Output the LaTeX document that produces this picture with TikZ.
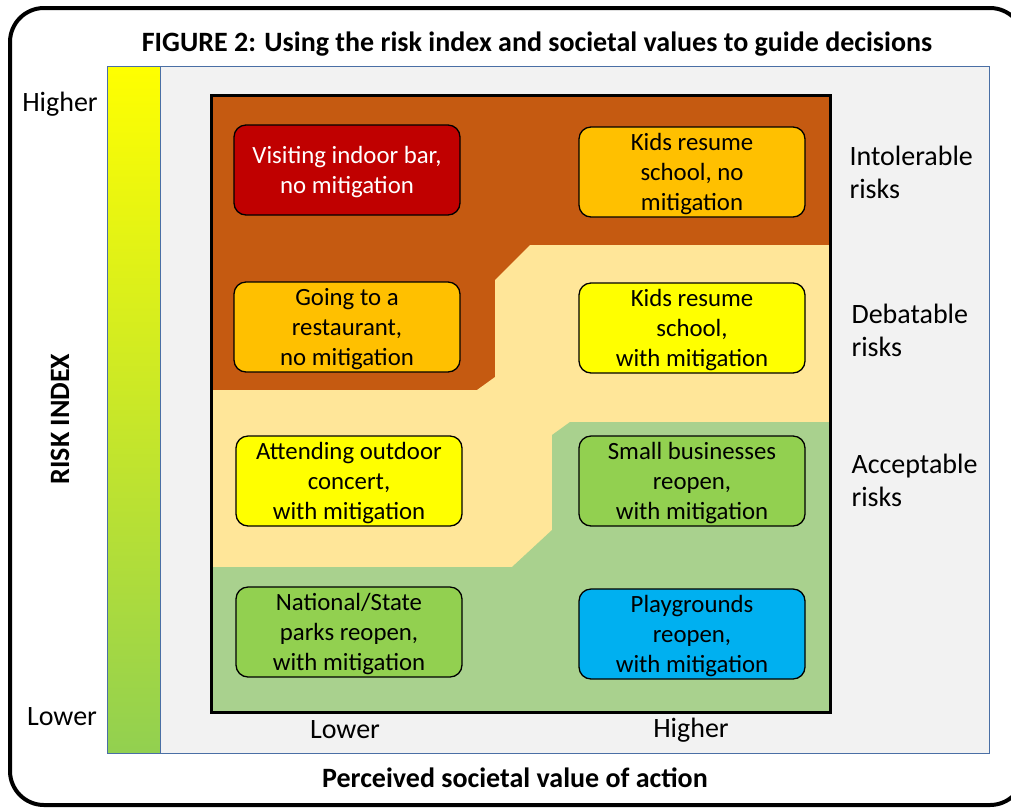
\documentclass[tikz,border=0pt]{standalone}
\usepackage{fontspec}
\setmainfont{Carlito}
\usepackage{tikz}
\usetikzlibrary{positioning,
                backgrounds}

\definecolor{riskBrown}{HTML}{C55A11}
\definecolor{riskTan}{HTML}{FFE699}
\definecolor{riskLeaf}{HTML}{A9D18E}
\definecolor{panelGray}{HTML}{F2F2F2}
\definecolor{panelEdge}{HTML}{4A6FA5}
\definecolor{actRed}{HTML}{C00000}
\definecolor{actOrange}{HTML}{FFC000}
\definecolor{actYellow}{HTML}{FFFF00}
\definecolor{actGreen}{HTML}{92D050}
\definecolor{actBlue}{HTML}{00B0F0}

\begin{document}
\begin{tikzpicture}[x=1pt,y=-1pt,%
    Act/.style={draw,line width=1.3pt,rounded corners=12pt,minimum width=226pt,
                minimum height=90pt,align=center,font=\fontsize{24.8}{30}\selectfont,
                text depth=-12pt},
    Zone/.style={align=left,anchor=west,font=\fontsize{28}{33}\selectfont},
    Tick/.style={font=\fontsize{28}{33}\selectfont},
    Heading/.style={font=\bfseries\fontsize{28}{33}\selectfont}
    ]
    \useasboundingbox (0,0) rectangle (1011,807);

    %frame and panel
    \draw[line width=4pt,rounded corners=34pt] (10,8) rectangle (1024,805);
    \draw[panelEdge,fill=panelGray,line width=1pt] (160,66) rectangle (989,753);
    \shade[top color=actYellow,bottom color=actGreen] (107,66) rectangle (160,753);
    \draw[panelEdge,line width=1pt] (107,66) rectangle (160,753);

    %risk zones
    \fill[riskBrown] (211,95) rectangle (830,712);
    \fill[riskTan] (211,390) -- (477,390) -- (495,377) -- (495,280) -- (530,245)
        -- (830,245) -- (830,712) -- (211,712) -- cycle;
    \fill[riskLeaf] (211,567) -- (512,567) -- (552,530) -- (552,435) -- (570,422)
        -- (830,422) -- (830,712) -- (211,712) -- cycle;
    \draw[line width=3pt] (211,95) rectangle (830,712);

    %actions
    \node[Act,fill=actRed,text=white] at (347,170) (Bar){Visiting indoor bar,\\no mitigation};
    \node[Act,fill=actOrange] at (692,172) (SchoolNo){Kids resume\\school, no\\mitigation};
    \node[Act,fill=actOrange] at (347,327) (Restaurant){Going to a\\restaurant,\\no mitigation};
    \node[Act,fill=actYellow] at (692,328) (SchoolMit){Kids resume\\school,\\with mitigation};
    \node[Act,fill=actYellow] at (349,481) (Concert){Attending outdoor\\concert,\\with mitigation};
    \node[Act,fill=actGreen] at (692,481) (Business){Small businesses\\reopen,\\with mitigation};
    \node[Act,fill=actGreen] at (349,632) (Parks){National/State\\parks reopen,\\with mitigation};
    \node[Act,fill=actBlue] at (692,634) (Playground){Playgrounds\\reopen,\\with mitigation};

    %zone labels
    \node[Zone] at (846,172) (Intol){Intolerable\\risks};
    \node[Zone] at (848,330) (Debat){Debatable\\risks};
    \node[Zone] at (848,480) (Accept){Acceptable\\risks};

    %axes
    \node[Tick] at (60,104) (RiskHi){Higher};
    \node[Tick] at (62,717) (RiskLo){Lower};
    \node[Tick] at (345,730) (ValLo){Lower};
    \node[Tick] at (691,730) (ValHi){Higher};
    \node[Heading,rotate=90] at (60,419) (RiskAxis){RISK INDEX};
    \node[Heading] at (515,778) (ValAxis){Perceived societal value of action};
    \node[Heading] at (537,44) (Title){FIGURE 2: Using the risk index and societal values to guide decisions};
\end{tikzpicture}
\end{document}
